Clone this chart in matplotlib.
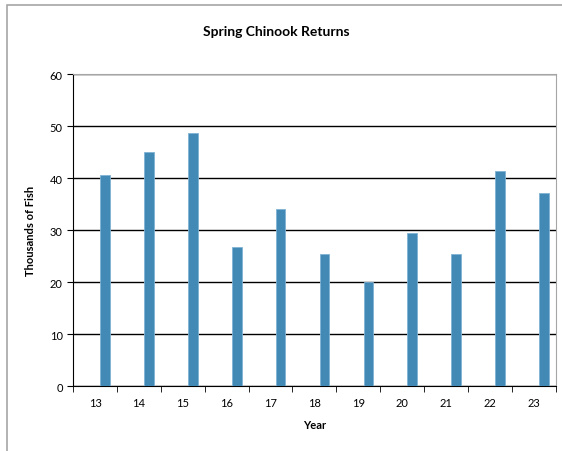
import matplotlib
matplotlib.use('Agg')
import matplotlib.pyplot as plt
import numpy as np
from matplotlib.patches import Rectangle

# Dados
years = ['13', '14', '15', '16', '17', '18', '19', '20', '21', '22', '23']
returns = [40.6, 45.1, 48.6, 26.7, 34.1, 25.3, 20.1, 29.4, 25.3, 41.3, 37.1]

plt.rcParams['font.family'] = ['Lato', 'DejaVu Sans']

fig = plt.figure(figsize=(5.62, 4.52), dpi=100)
ax = fig.add_axes([0.130, 0.1438, 0.859, 0.690])

# Moldura externa do gráfico
fig.patches.append(Rectangle((7 / 562, -0.1), 1.2, 1 - 6 / 452 + 0.1,
                             transform=fig.transFigure, fill=False,
                             edgecolor='#a6a6a6', linewidth=1.2))

x = np.arange(len(years))
ax.bar(x + 0.23, returns, width=0.22, color='#4389b5',
       edgecolor='#7fb3d5', linewidth=0.6, zorder=3)

ax.set_xlim(-0.5, len(years) - 0.5)
ax.set_ylim(0, 60)
ax.set_yticks(range(0, 61, 10))
ax.set_xticks(x)
ax.set_xticklabels(years)
ax.set_xticks(np.arange(-0.5, len(years)), minor=True)
ax.tick_params(axis='x', which='major', length=0, pad=8, labelsize=8)
ax.tick_params(axis='x', which='minor', length=4, direction='out')
ax.tick_params(axis='y', length=4, direction='out', labelsize=8)

ax.grid(axis='y', color='black', linewidth=1, zorder=0)
ax.spines['left'].set_color('black')
ax.spines['bottom'].set_color('black')
ax.spines['top'].set_color('#a6a6a6')
ax.spines['right'].set_color('#a6a6a6')

# Título centrado na área do gráfico, como no Excel
fig.text(276 / 562, 1 - 32 / 452, 'Spring Chinook Returns', fontsize=10,
         fontweight='bold', ha='center', va='center')
ax.set_xlabel('Year', fontsize=8, fontweight='bold', labelpad=8)
ax.set_ylabel('Thousands of Fish', fontsize=8, fontweight='bold', labelpad=10)

fig.savefig('out.png', dpi=100)
